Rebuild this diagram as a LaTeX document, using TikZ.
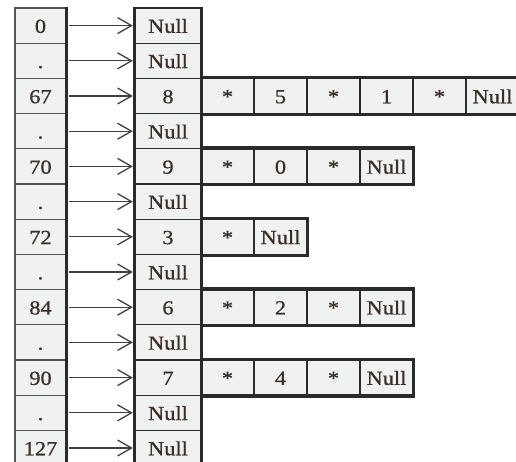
\documentclass[tikz,border=0pt]{standalone}
\usepackage{fontspec}
\setmainfont{Liberation Serif}[FakeStretch=1.12,FakeBold=0.6]
\usetikzlibrary{arrows.meta}
\definecolor{cellgray}{HTML}{F0F1F1}
\definecolor{linedark}{HTML}{2A2A2A}
\definecolor{textdark}{HTML}{3A2E28}
\tikzset{
  txt/.style={font=\fontsize{20}{20}\selectfont, text=textdark, text height=14.5pt, text depth=0pt, inner sep=0pt},
  lcell/.style={txt, draw=linedark!80, line width=1.1pt, fill=cellgray, minimum width=51pt, minimum height=35.2pt},
  mcell/.style={txt, draw=linedark, line width=1.3pt, fill=cellgray, minimum width=66pt, minimum height=35.2pt},
  rcell/.style={txt, draw=linedark, line width=1.8pt, fill=cellgray, minimum width=53pt, minimum height=35.2pt},
  groupbox/.style={draw=linedark, line width=3pt},
  thickline/.style={draw=linedark, line width=3pt},
  arr/.style={draw=black!75, line width=1.3pt, -{Straight Barb[length=14pt,width=16pt,line width=1.3pt]}, shorten <=2.5pt, shorten >=1.5pt}
}
\begin{document}
\begin{tikzpicture}[x=1pt,y=-1pt]
\useasboundingbox (0,0) rectangle (516,461);
% right chains
\foreach \r/\n/\lst in {2/6/{*,5,*,1,*,Null},4/4/{*,0,*,Null},6/2/{*,Null},8/4/{*,2,*,Null},10/4/{*,4,*,Null}}{
  \foreach \v [count=\k] in \lst {
    \node[rcell] (c\r-\k) at ({174.5+53*\k},{25.6+35.2*\r}) {\v};
  }
  \draw[groupbox] (c\r-1.north west) rectangle (c\r-\n.south east);
}
% left column
\foreach \i/\t in {0/0,1/.,2/67,3/.,4/70,5/.,6/72,7/.,8/84,9/.,10/90,11/.,12/127}{
  \node[lcell] (l\i) at (40.5,{25.6+35.2*\i}) {\t};
}
\draw[thickline] (l0.north east) -- (l12.south east);
% middle column
\foreach \i/\t in {0/Null,1/Null,2/8,3/Null,4/9,5/Null,6/3,7/Null,8/6,9/Null,10/7,11/Null,12/Null}{
  \node[mcell] (m\i) at (168,{25.6+35.2*\i}) {\t};
}
\draw[thickline] (m0.north west) -- (m12.south west);
\draw[thickline] (m0.north east) -- (m12.south east);
% arrows
\foreach \i in {0,...,12}{
  \draw[arr] (l\i.east) -- (m\i.west);
}
\end{tikzpicture}
\end{document}
